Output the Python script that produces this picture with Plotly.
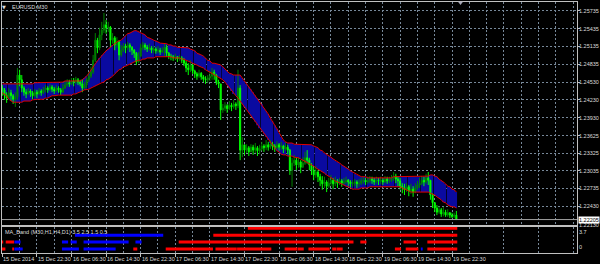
import plotly.graph_objects as go

# ---------------- data ----------------
symbol_title = "EURUSD,M30"
indicator_title = "MA_Band (M30,H1,H4,D1) 3.5 2.5 1.5 0.5"

time_tick_bars = [0, 16, 32, 48, 64, 80, 96, 112, 128, 144, 160, 176, 192, 208]
time_tick_labels = ["15 Dec 2014", "15 Dec 22:30", "16 Dec 06:30", "16 Dec 14:30",
                    "16 Dec 22:30", "17 Dec 06:30", "17 Dec 14:30", "17 Dec 22:30",
                    "18 Dec 06:30", "18 Dec 14:30", "18 Dec 22:30", "19 Dec 06:30",
                    "19 Dec 14:30", "19 Dec 22:30"]

price_tick_values = [1.25735, 1.25435, 1.25135, 1.24835, 1.24530, 1.24230, 1.23930,
                     1.23625, 1.23325, 1.23035, 1.22735, 1.22430]
price_tick_labels = ["1.25735", "1.25435", "1.25135", "1.24835", "1.24530", "1.24230",
                     "1.23930", "1.23625", "1.23325", "1.23035", "1.22735", "1.22430"]
window_min_price = 1.22130
window_min_label = "1.22130"

open_ = [
 1.2443, 1.2440, 1.2431, 1.2426, 1.2435, 1.2430, 1.2424, 1.2428, 1.2465, 1.2457,
 1.2443, 1.2436, 1.2433, 1.2438, 1.2435, 1.2430, 1.2436, 1.2433, 1.2438, 1.2435,
 1.2440, 1.2443, 1.2440, 1.2445, 1.2441, 1.2438, 1.2443, 1.2440, 1.2436, 1.2443,
 1.2448, 1.2452, 1.2450, 1.2455, 1.2453, 1.2457, 1.2453, 1.2450, 1.2443, 1.2448,
 1.2457, 1.2463, 1.2470, 1.2490, 1.2524, 1.2511, 1.2533, 1.2541, 1.2550, 1.2545,
 1.2546, 1.2524, 1.2528, 1.2516, 1.2521, 1.2499, 1.2507, 1.2514, 1.2511, 1.2516,
 1.2512, 1.2507, 1.2502, 1.2487, 1.2497, 1.2511, 1.2516, 1.2512, 1.2509, 1.2511,
 1.2507, 1.2509, 1.2506, 1.2507, 1.2504, 1.2507, 1.2512, 1.2502, 1.2497, 1.2496,
 1.2494, 1.2496, 1.2492, 1.2494, 1.2490, 1.2485, 1.2477, 1.2474, 1.2482, 1.2472,
 1.2467, 1.2463, 1.2468, 1.2462, 1.2458, 1.2457, 1.2460, 1.2463, 1.2470, 1.2465,
 1.2453, 1.2450, 1.2406, 1.2409, 1.2413, 1.2408, 1.2414, 1.2411, 1.2416, 1.2413,
 1.2443, 1.2338, 1.2347, 1.2338, 1.2342, 1.2335, 1.2343, 1.2338, 1.2342, 1.2337,
 1.2340, 1.2345, 1.2342, 1.2347, 1.2343, 1.2348, 1.2345, 1.2342, 1.2347, 1.2343,
 1.2345, 1.2340, 1.2343, 1.2338, 1.2304, 1.2316, 1.2321, 1.2313, 1.2318, 1.2309,
 1.2316, 1.2325, 1.2321, 1.2313, 1.2304, 1.2296, 1.2301, 1.2293, 1.2287, 1.2281,
 1.2284, 1.2277, 1.2282, 1.2287, 1.2281, 1.2286, 1.2282, 1.2286, 1.2282, 1.2284,
 1.2287, 1.2284, 1.2281, 1.2282, 1.2284, 1.2281, 1.2282, 1.2286, 1.2287, 1.2284,
 1.2286, 1.2289, 1.2287, 1.2284, 1.2287, 1.2286, 1.2287, 1.2284, 1.2289, 1.2286,
 1.2287, 1.2291, 1.2294, 1.2289, 1.2286, 1.2277, 1.2274, 1.2271, 1.2276, 1.2269,
 1.2272, 1.2267, 1.2274, 1.2279, 1.2282, 1.2287, 1.2284, 1.2291, 1.2287, 1.2262,
 1.2249, 1.2240, 1.2233, 1.2237, 1.2230, 1.2233, 1.2228, 1.2232, 1.2228, 1.2226,
 1.2228]

high = [
 1.2448, 1.2443, 1.2436, 1.2443, 1.2440, 1.2433, 1.2436, 1.2477, 1.2474, 1.2465,
 1.2446, 1.2441, 1.2443, 1.2441, 1.2438, 1.2441, 1.2440, 1.2443, 1.2441, 1.2445,
 1.2448, 1.2446, 1.2450, 1.2448, 1.2445, 1.2448, 1.2446, 1.2443, 1.2450, 1.2455,
 1.2458, 1.2457, 1.2460, 1.2460, 1.2462, 1.2460, 1.2457, 1.2458, 1.2453, 1.2460,
 1.2470, 1.2479, 1.2499, 1.2536, 1.2528, 1.2545, 1.2555, 1.2570, 1.2558, 1.2555,
 1.2548, 1.2536, 1.2531, 1.2529, 1.2524, 1.2516, 1.2519, 1.2518, 1.2521, 1.2519,
 1.2514, 1.2509, 1.2504, 1.2504, 1.2518, 1.2521, 1.2519, 1.2516, 1.2518, 1.2514,
 1.2514, 1.2512, 1.2514, 1.2511, 1.2512, 1.2519, 1.2516, 1.2504, 1.2501, 1.2499,
 1.2501, 1.2497, 1.2499, 1.2497, 1.2494, 1.2489, 1.2485, 1.2490, 1.2484, 1.2474,
 1.2470, 1.2474, 1.2470, 1.2465, 1.2463, 1.2465, 1.2472, 1.2477, 1.2474, 1.2467,
 1.2457, 1.2450, 1.2416, 1.2419, 1.2416, 1.2421, 1.2418, 1.2423, 1.2419, 1.2474,
 1.2448, 1.2360, 1.2347, 1.2348, 1.2345, 1.2348, 1.2347, 1.2350, 1.2345, 1.2347,
 1.2352, 1.2348, 1.2355, 1.2352, 1.2355, 1.2352, 1.2348, 1.2353, 1.2350, 1.2352,
 1.2347, 1.2350, 1.2347, 1.2340, 1.2325, 1.2330, 1.2326, 1.2326, 1.2321, 1.2326,
 1.2335, 1.2338, 1.2325, 1.2316, 1.2309, 1.2311, 1.2304, 1.2298, 1.2294, 1.2293,
 1.2287, 1.2291, 1.2296, 1.2291, 1.2293, 1.2289, 1.2291, 1.2289, 1.2291, 1.2293,
 1.2289, 1.2287, 1.2287, 1.2289, 1.2287, 1.2289, 1.2291, 1.2293, 1.2291, 1.2293,
 1.2294, 1.2293, 1.2291, 1.2293, 1.2291, 1.2293, 1.2291, 1.2294, 1.2293, 1.2293,
 1.2296, 1.2301, 1.2298, 1.2294, 1.2291, 1.2282, 1.2281, 1.2282, 1.2279, 1.2281,
 1.2277, 1.2282, 1.2286, 1.2291, 1.2294, 1.2293, 1.2298, 1.2301, 1.2287, 1.2265,
 1.2250, 1.2245, 1.2243, 1.2240, 1.2242, 1.2237, 1.2238, 1.2233, 1.2232, 1.2232,
 1.2235]

low = [
 1.2430, 1.2423, 1.2418, 1.2426, 1.2421, 1.2416, 1.2411, 1.2423, 1.2446, 1.2436,
 1.2430, 1.2426, 1.2431, 1.2428, 1.2424, 1.2428, 1.2426, 1.2431, 1.2430, 1.2433,
 1.2436, 1.2435, 1.2438, 1.2436, 1.2433, 1.2436, 1.2435, 1.2431, 1.2435, 1.2441,
 1.2445, 1.2445, 1.2448, 1.2446, 1.2450, 1.2448, 1.2446, 1.2436, 1.2440, 1.2443,
 1.2453, 1.2460, 1.2467, 1.2487, 1.2502, 1.2507, 1.2524, 1.2536, 1.2535, 1.2538,
 1.2512, 1.2518, 1.2507, 1.2511, 1.2490, 1.2496, 1.2504, 1.2502, 1.2507, 1.2504,
 1.2499, 1.2494, 1.2482, 1.2485, 1.2496, 1.2507, 1.2507, 1.2504, 1.2506, 1.2502,
 1.2502, 1.2501, 1.2502, 1.2499, 1.2502, 1.2496, 1.2496, 1.2492, 1.2490, 1.2489,
 1.2490, 1.2487, 1.2489, 1.2485, 1.2480, 1.2470, 1.2465, 1.2470, 1.2467, 1.2460,
 1.2457, 1.2460, 1.2457, 1.2453, 1.2450, 1.2452, 1.2455, 1.2457, 1.2457, 1.2448,
 1.2443, 1.2389, 1.2401, 1.2404, 1.2401, 1.2406, 1.2404, 1.2408, 1.2406, 1.2409,
 1.2321, 1.2326, 1.2330, 1.2333, 1.2328, 1.2335, 1.2330, 1.2333, 1.2328, 1.2331,
 1.2337, 1.2335, 1.2338, 1.2337, 1.2340, 1.2338, 1.2335, 1.2340, 1.2337, 1.2338,
 1.2333, 1.2337, 1.2331, 1.2296, 1.2276, 1.2311, 1.2304, 1.2308, 1.2299, 1.2308,
 1.2313, 1.2315, 1.2304, 1.2296, 1.2287, 1.2291, 1.2284, 1.2277, 1.2271, 1.2274,
 1.2267, 1.2274, 1.2277, 1.2272, 1.2277, 1.2274, 1.2279, 1.2276, 1.2279, 1.2281,
 1.2277, 1.2274, 1.2276, 1.2277, 1.2274, 1.2276, 1.2279, 1.2281, 1.2279, 1.2281,
 1.2282, 1.2281, 1.2279, 1.2281, 1.2279, 1.2281, 1.2279, 1.2282, 1.2281, 1.2282,
 1.2284, 1.2286, 1.2282, 1.2277, 1.2271, 1.2265, 1.2262, 1.2267, 1.2260, 1.2264,
 1.2259, 1.2265, 1.2271, 1.2274, 1.2279, 1.2277, 1.2281, 1.2279, 1.2254, 1.2240,
 1.2233, 1.2228, 1.2230, 1.2225, 1.2226, 1.2225, 1.2225, 1.2223, 1.2223, 1.2223,
 1.2220]

close = [
 1.2440, 1.2431, 1.2426, 1.2435, 1.2430, 1.2424, 1.2428, 1.2465, 1.2457, 1.2443,
 1.2436, 1.2433, 1.2438, 1.2435, 1.2430, 1.2436, 1.2433, 1.2438, 1.2435, 1.2440,
 1.2443, 1.2440, 1.2445, 1.2441, 1.2438, 1.2443, 1.2440, 1.2436, 1.2443, 1.2448,
 1.2452, 1.2450, 1.2455, 1.2453, 1.2457, 1.2453, 1.2450, 1.2443, 1.2448, 1.2457,
 1.2463, 1.2470, 1.2490, 1.2524, 1.2511, 1.2533, 1.2541, 1.2550, 1.2545, 1.2546,
 1.2524, 1.2528, 1.2516, 1.2521, 1.2499, 1.2507, 1.2514, 1.2511, 1.2516, 1.2512,
 1.2507, 1.2502, 1.2487, 1.2497, 1.2511, 1.2516, 1.2512, 1.2509, 1.2511, 1.2507,
 1.2509, 1.2506, 1.2507, 1.2504, 1.2507, 1.2512, 1.2502, 1.2497, 1.2496, 1.2494,
 1.2496, 1.2492, 1.2494, 1.2490, 1.2485, 1.2477, 1.2474, 1.2482, 1.2472, 1.2467,
 1.2463, 1.2468, 1.2462, 1.2458, 1.2457, 1.2460, 1.2463, 1.2470, 1.2465, 1.2453,
 1.2450, 1.2406, 1.2409, 1.2413, 1.2408, 1.2414, 1.2411, 1.2416, 1.2413, 1.2443,
 1.2338, 1.2347, 1.2338, 1.2342, 1.2335, 1.2343, 1.2338, 1.2342, 1.2337, 1.2340,
 1.2345, 1.2342, 1.2347, 1.2343, 1.2348, 1.2345, 1.2342, 1.2347, 1.2343, 1.2345,
 1.2340, 1.2343, 1.2338, 1.2304, 1.2316, 1.2321, 1.2313, 1.2318, 1.2309, 1.2316,
 1.2325, 1.2321, 1.2313, 1.2304, 1.2296, 1.2301, 1.2293, 1.2287, 1.2281, 1.2284,
 1.2277, 1.2282, 1.2287, 1.2281, 1.2286, 1.2282, 1.2286, 1.2282, 1.2284, 1.2287,
 1.2284, 1.2281, 1.2282, 1.2284, 1.2281, 1.2282, 1.2286, 1.2287, 1.2284, 1.2286,
 1.2289, 1.2287, 1.2284, 1.2287, 1.2286, 1.2287, 1.2284, 1.2289, 1.2286, 1.2287,
 1.2291, 1.2294, 1.2289, 1.2286, 1.2277, 1.2274, 1.2271, 1.2276, 1.2269, 1.2272,
 1.2267, 1.2274, 1.2279, 1.2282, 1.2287, 1.2284, 1.2291, 1.2287, 1.2262, 1.2249,
 1.2240, 1.2233, 1.2237, 1.2230, 1.2233, 1.2228, 1.2232, 1.2228, 1.2226, 1.2228,
 1.22205]

band_upper = [
 1.2450, 1.2450, 1.2450, 1.2450, 1.2450, 1.2450, 1.2450, 1.2450, 1.2450, 1.2450,
 1.2450, 1.2450, 1.2450, 1.2450, 1.2450, 1.2452, 1.2452, 1.2452, 1.2452, 1.2452,
 1.2453, 1.2453, 1.2453, 1.2453, 1.2453, 1.2453, 1.2453, 1.2453, 1.2453, 1.2455,
 1.2455, 1.2455, 1.2455, 1.2455, 1.2455, 1.2455, 1.2455, 1.2457, 1.2460, 1.2463,
 1.2468, 1.2474, 1.2479, 1.2484, 1.2489, 1.2494, 1.2499, 1.2502, 1.2506, 1.2509,
 1.2512, 1.2516, 1.2519, 1.2521, 1.2523, 1.2524, 1.2528, 1.2531, 1.2535, 1.2536,
 1.2538, 1.2540, 1.2540, 1.2538, 1.2536, 1.2535, 1.2533, 1.2529, 1.2528, 1.2526,
 1.2524, 1.2523, 1.2521, 1.2519, 1.2519, 1.2518, 1.2518, 1.2516, 1.2516, 1.2514,
 1.2514, 1.2512, 1.2512, 1.2512, 1.2511, 1.2511, 1.2511, 1.2509, 1.2507, 1.2506,
 1.2502, 1.2501, 1.2499, 1.2497, 1.2494, 1.2490, 1.2489, 1.2485, 1.2485, 1.2484,
 1.2484, 1.2482, 1.2479, 1.2475, 1.2472, 1.2468, 1.2467, 1.2465, 1.2465, 1.2465,
 1.2465, 1.2460, 1.2455, 1.2450, 1.2445, 1.2441, 1.2436, 1.2431, 1.2426, 1.2421,
 1.2416, 1.2409, 1.2404, 1.2399, 1.2392, 1.2387, 1.2380, 1.2374, 1.2367, 1.2360,
 1.2355, 1.2352, 1.2350, 1.2350, 1.2350, 1.2348, 1.2348, 1.2348, 1.2348, 1.2347,
 1.2347, 1.2347, 1.2347, 1.2347, 1.2345, 1.2343, 1.2342, 1.2338, 1.2337, 1.2333,
 1.2331, 1.2328, 1.2326, 1.2323, 1.2321, 1.2318, 1.2316, 1.2313, 1.2311, 1.2308,
 1.2306, 1.2303, 1.2301, 1.2298, 1.2296, 1.2294, 1.2293, 1.2293, 1.2293, 1.2291,
 1.2291, 1.2291, 1.2291, 1.2291, 1.2291, 1.2291, 1.2291, 1.2291, 1.2291, 1.2291,
 1.2291, 1.2293, 1.2293, 1.2293, 1.2293, 1.2293, 1.2293, 1.2293, 1.2293, 1.2293,
 1.2293, 1.2293, 1.2293, 1.2293, 1.2293, 1.2293, 1.2294, 1.2294, 1.2296, 1.2296,
 1.2294, 1.2293, 1.2289, 1.2287, 1.2284, 1.2281, 1.2277, 1.2276, 1.2272, 1.2271,
 1.2267]

band_lower = [
 1.2435, 1.2433, 1.2430, 1.2424, 1.2421, 1.2419, 1.2419, 1.2419, 1.2419, 1.2419,
 1.2421, 1.2421, 1.2421, 1.2421, 1.2423, 1.2424, 1.2424, 1.2424, 1.2424, 1.2424,
 1.2426, 1.2426, 1.2428, 1.2430, 1.2430, 1.2431, 1.2431, 1.2431, 1.2431, 1.2431,
 1.2431, 1.2431, 1.2431, 1.2433, 1.2433, 1.2435, 1.2436, 1.2438, 1.2440, 1.2440,
 1.2441, 1.2443, 1.2445, 1.2446, 1.2448, 1.2450, 1.2452, 1.2453, 1.2457, 1.2458,
 1.2460, 1.2463, 1.2467, 1.2470, 1.2474, 1.2475, 1.2479, 1.2480, 1.2482, 1.2484,
 1.2485, 1.2487, 1.2489, 1.2490, 1.2490, 1.2492, 1.2492, 1.2494, 1.2494, 1.2494,
 1.2494, 1.2496, 1.2496, 1.2496, 1.2496, 1.2496, 1.2496, 1.2496, 1.2496, 1.2494,
 1.2494, 1.2494, 1.2494, 1.2492, 1.2492, 1.2490, 1.2489, 1.2487, 1.2485, 1.2484,
 1.2482, 1.2480, 1.2479, 1.2477, 1.2474, 1.2472, 1.2470, 1.2467, 1.2465, 1.2463,
 1.2462, 1.2460, 1.2457, 1.2453, 1.2448, 1.2443, 1.2438, 1.2433, 1.2430, 1.2426,
 1.2421, 1.2416, 1.2411, 1.2406, 1.2401, 1.2396, 1.2391, 1.2386, 1.2380, 1.2375,
 1.2370, 1.2365, 1.2360, 1.2355, 1.2350, 1.2345, 1.2340, 1.2337, 1.2335, 1.2331,
 1.2330, 1.2330, 1.2328, 1.2328, 1.2328, 1.2326, 1.2326, 1.2325, 1.2323, 1.2321,
 1.2320, 1.2318, 1.2316, 1.2313, 1.2311, 1.2308, 1.2306, 1.2304, 1.2301, 1.2299,
 1.2296, 1.2294, 1.2291, 1.2289, 1.2286, 1.2284, 1.2282, 1.2281, 1.2279, 1.2277,
 1.2276, 1.2274, 1.2272, 1.2272, 1.2272, 1.2272, 1.2274, 1.2274, 1.2274, 1.2274,
 1.2276, 1.2276, 1.2276, 1.2276, 1.2276, 1.2276, 1.2276, 1.2276, 1.2276, 1.2276,
 1.2276, 1.2276, 1.2276, 1.2276, 1.2276, 1.2274, 1.2272, 1.2271, 1.2269, 1.2267,
 1.2267, 1.2267, 1.2267, 1.2267, 1.2267, 1.2267, 1.2267, 1.2267, 1.2265, 1.2264,
 1.2262, 1.2259, 1.2257, 1.2254, 1.2250, 1.2249, 1.2245, 1.2243, 1.2242, 1.2242,
 1.2240]

# MA_Band sub-window: state runs per timeframe row (row level, first bar, last bar, state)
seg_level = [3.5, 2.5, 2.5,
             1.5, 1.5, 1.5, 1.5, 1.5, 1.5, 1.5, 1.5, 1.5, 1.5, 1.5,
             0.5, 0.5, 0.5, 0.5, 0.5, 0.5, 0.5, 0.5, 0.5, 0.5, 0.5, 0.5, 0.5, 0.5, 0.5, 0.5, 0.5, 0.5]
seg_start = [114, 34, 98,
             0, 2, 6, 28, 32, 38, 62, 82, 166, 186, 197,
             0, 5, 6, 28, 38, 61, 76, 99, 109, 131, 137, 142, 153, 155, 182, 187, 194, 197]
seg_end = [210, 74, 210,
           0, 5, 8, 30, 34, 58, 64, 162, 168, 191, 210,
           1, 5, 9, 35, 52, 62, 97, 108, 124, 136, 139, 151, 154, 157, 184, 192, 194, 210]
seg_state = ["down", "up", "down",
             "down", "down", "up", "up", "up", "up", "up", "down", "down", "down", "down",
             "down", "down", "up", "up", "up", "down", "down", "down", "down", "down", "down",
             "down", "down", "down", "down", "down", "up", "down"]

# ---------------- styling ----------------
FONT = "Liberation Sans, Arial, sans-serif"
FS = 5.5
TXT = "#DCDCDC"
GRID = "#778899"
FRAME = "#C0C0C0"

bars = list(range(len(close)))
n_slots = 265.95

fig = go.Figure()

# band histogram (blue) between the two lines
fig.add_trace(go.Bar(
    x=bars, y=[u - l for u, l in zip(band_upper, band_lower)], base=band_lower,
    width=0.65, marker=dict(color="#0A0AA0", line=dict(width=0)),
    xaxis="x", yaxis="y", hoverinfo="skip", showlegend=False))
fig.add_trace(go.Scatter(x=bars, y=band_upper, mode="lines",
                         line=dict(color="#E00000", width=1),
                         xaxis="x", yaxis="y", hoverinfo="skip", showlegend=False))
fig.add_trace(go.Scatter(x=bars, y=band_lower, mode="lines",
                         line=dict(color="#E00000", width=1),
                         xaxis="x", yaxis="y", hoverinfo="skip", showlegend=False))

fig.add_trace(go.Candlestick(
    x=bars, open=open_, high=high, low=low, close=close,
    increasing=dict(line=dict(color="#008000", width=1), fillcolor="#008000"),
    decreasing=dict(line=dict(color="#00FF00", width=1), fillcolor="#00FF00"),
    whiskerwidth=0, xaxis="x", yaxis="y", hoverinfo="skip", showlegend=False))

# sub window segments
state_color = {"up": "#0000FF", "down": "#FF0000"}
for state in ["up", "down"]:
    xs, ys = [], []
    for lv, s, e, st in zip(seg_level, seg_start, seg_end, seg_state):
        if st != state:
            continue
        xs += [s - 0.42, e + 0.42, None]
        ys += [lv, lv, None]
    fig.add_trace(go.Scatter(x=xs, y=ys, mode="lines",
                             line=dict(color=state_color[state], width=3),
                             xaxis="x2", yaxis="y2", hoverinfo="skip", showlegend=False))

# ---------------- layout ----------------
xr = [-0.15, -0.15 + n_slots]
fig.update_layout(
    width=600, height=264,
    margin=dict(l=2, r=23, t=2, b=11),
    paper_bgcolor="black", plot_bgcolor="black",
    barmode="overlay", showlegend=False, hovermode=False,
    font=dict(family=FONT, size=FS, color=TXT),
    xaxis=dict(domain=[0, 1], anchor="y", range=xr, tick0=0, dtick=8,
               showgrid=True, gridcolor=GRID, griddash="2px,2px", gridwidth=1,
               showticklabels=False, ticks="", zeroline=False,
               showline=True, mirror=True, linecolor=FRAME, linewidth=1,
               rangeslider=dict(visible=False)),
    yaxis=dict(domain=[0.1116, 1], anchor="x", range=[1.22113, 1.25886],
               side="right", tickmode="array", tickvals=price_tick_values,
               ticks="outside", ticklen=2, tickcolor=FRAME, showticklabels=False,
               showgrid=True, gridcolor=GRID, griddash="2px,2px", gridwidth=1,
               zeroline=False, showline=True, mirror=True, linecolor=FRAME,
               linewidth=1, automargin=False),
    xaxis2=dict(domain=[0, 1], anchor="y2", range=xr, tickmode="array",
                tickvals=time_tick_bars, ticks="outside", ticklen=3, tickcolor=FRAME,
                showticklabels=False, showgrid=True, gridcolor=GRID,
                griddash="2px,2px", gridwidth=1,
                minor=dict(tickmode="array", tickvals=list(range(8, 266, 16)),
                           showgrid=True, gridcolor=GRID, griddash="2px,2px", ticks=""),
                zeroline=False, showline=True, mirror=True, linecolor=FRAME,
                linewidth=1, automargin=False),
    yaxis2=dict(domain=[0, 0.1048], anchor="x2", range=[-0.08, 3.73],
                showticklabels=False, showgrid=False, zeroline=False, ticks="",
                showline=True, mirror=True, linecolor=FRAME, linewidth=1,
                automargin=False),
)

# current price line
fig.add_shape(type="line", xref="paper", yref="y", x0=0, x1=1,
              y0=close[-1], y1=close[-1], line=dict(color="#A0A0A0", width=1))

annotations = []
tf = dict(size=FS, color=TXT, family=FONT)
# price scale labels
for v, lab in zip(price_tick_values, price_tick_labels):
    annotations.append(dict(x=1, y=v, xref="paper", yref="y", text=lab, showarrow=False,
                            xanchor="left", yanchor="middle", xshift=0, font=tf))
annotations.append(dict(x=1, y=window_min_price, xref="paper", yref="y",
                        text=window_min_label, showarrow=False, xanchor="left",
                        yanchor="middle", xshift=0, yshift=-1, font=tf))
# current price box (drawn over the minimum label)
annotations.append(dict(x=1, y=close[-1], xref="paper", yref="y",
                        text=f"{close[-1]:.5f}", showarrow=False, xanchor="left",
                        yanchor="middle", xshift=1, bgcolor="white", borderpad=0,
                        font=dict(size=FS, color="black", family=FONT)))
# time labels
for b, lab in zip(time_tick_bars, time_tick_labels):
    annotations.append(dict(x=b, y=0, xref="x2", yref="paper", text=lab,
                            showarrow=False, xanchor="left", yanchor="top",
                            xshift=-1, yshift=-1, font=tf))
# sub-window scale labels
annotations.append(dict(x=1, y=3.7, xref="paper", yref="y2", text="3.7",
                        showarrow=False, xanchor="left", yanchor="top", xshift=0, font=tf))
annotations.append(dict(x=1, y=0, xref="paper", yref="y2", text="0",
                        showarrow=False, xanchor="left", yanchor="bottom", xshift=0, font=tf))
# titles
annotations.append(dict(x=0.0139, y=0.982, xref="paper", yref="paper", text=symbol_title,
                        showarrow=False, xanchor="left", yanchor="middle", font=tf))
annotations.append(dict(x=0.0043, y=0.982, xref="paper", yref="paper", text="▼",
                        showarrow=False, xanchor="center", yanchor="middle",
                        font=dict(size=5, color=TXT, family="DejaVu Sans")))
annotations.append(dict(x=0.0017, y=0.0849, xref="paper", yref="paper", text=indicator_title,
                        showarrow=False, xanchor="left", yanchor="middle", font=tf))
fig.update_layout(annotations=annotations)

# chart-shift marker at the top
fig.add_shape(type="path", xref="paper", yref="paper",
              path="M 0.793 1.0012 L 0.8017 1.0012 L 0.7974 0.988 Z",
              fillcolor="#A8A8B8", line=dict(width=0))

fig.write_html("out.html")
